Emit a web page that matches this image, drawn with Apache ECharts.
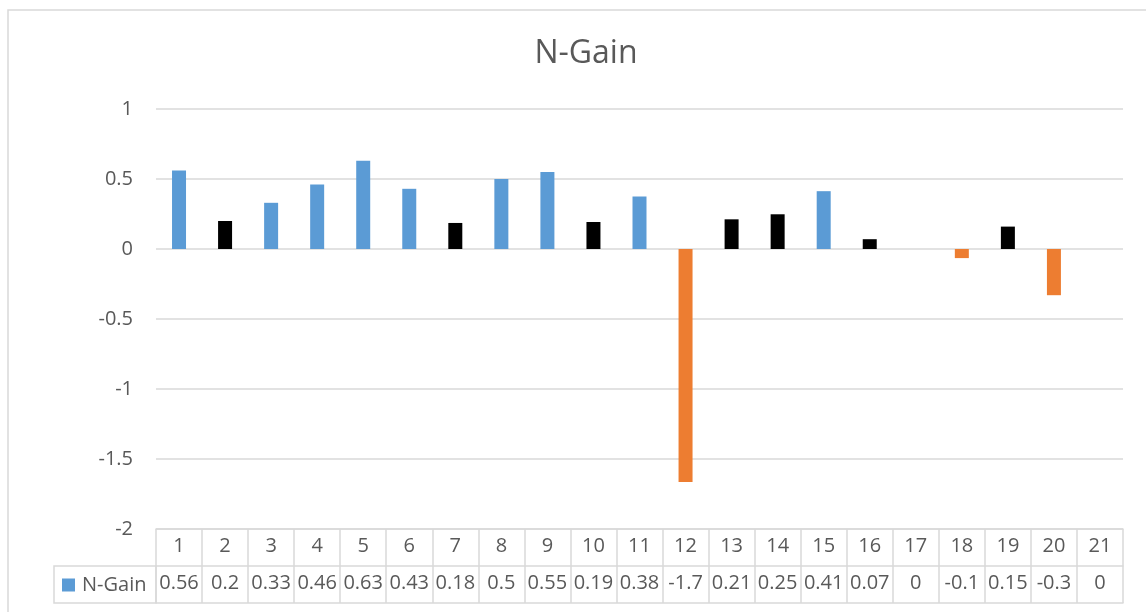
<!DOCTYPE html>
<html>
<head>
<meta charset="utf-8">
<script src="https://cdn.jsdelivr.net/npm/echarts@6/dist/echarts.min.js"></script>
<style>
html,body{margin:0;padding:0;background:#fff;}
#chart{width:1146px;height:612px;}
</style>
</head>
<body>
<div id="chart"></div>
<script>
var categories = ['1','2','3','4','5','6','7','8','9','10','11','12','13','14','15','16','17','18','19','20','21'];
var nGainValues = [0.56, 0.2, 0.33, 0.46, 0.63, 0.43, 0.186, 0.5, 0.55, 0.193, 0.375, -1.665, 0.212, 0.248, 0.413, 0.07, 0, -0.065, 0.16, -0.33, 0];
var tableLabels = ['0.56','0.2','0.33','0.46','0.63','0.43','0.18','0.5','0.55','0.19','0.38','-1.7','0.21','0.25','0.41','0.07','0','-0.1','0.15','-0.3','0'];
var barGroups = ['blue','black','blue','blue','blue','blue','black','blue','blue','black','blue','orange','black','black','blue','black','black','orange','black','orange','black'];
var yTicks = { min: -2, max: 1, interval: 0.5 };

var palette = { blue: '#5B9BD5', black: '#000000', orange: '#ED7D31' };
var gridC = '#D9D9D9';
var textC = '#595959';
var font = '"Open Sans", "Noto Sans", sans-serif';

var chart = echarts.init(document.getElementById('chart'), null, { renderer: 'canvas' });
chart.setOption({
  animation: false,
  backgroundColor: '#ffffff',
  title: {
    text: 'N-Gain',
    left: 581,
    top: 33,
    textAlign: 'center',
    textStyle: { color: textC, fontSize: 32, fontWeight: 'normal', fontFamily: font }
  },
  legend: {
    data: ['N-Gain'],
    left: 57,
    top: 570,
    itemWidth: 13,
    itemHeight: 13,
    icon: 'rect',
    textStyle: { color: textC, fontSize: 20, fontFamily: font, padding: [0, 0, 0, 2] }
  },
  grid: { left: 156, right: 23, top: 109, bottom: 83, outerBoundsMode: 'none' },
  xAxis: [
    {
      type: 'category',
      data: categories,
      position: 'bottom',
      axisLine: { show: true, onZero: false, lineStyle: { color: gridC, width: 1.5 } },
      axisTick: { show: true, length: 74, lineStyle: { color: gridC, width: 1.5 } },
      axisLabel: { color: textC, fontSize: 20, fontFamily: font, margin: 7, interval: 0 },
      splitLine: { show: false }
    },
    {
      type: 'category',
      data: categories,
      position: 'bottom',
      offset: 37,
      axisLine: { show: true, onZero: false, lineStyle: { color: gridC, width: 1.5 } },
      axisTick: { show: false },
      axisLabel: {
        color: textC, fontSize: 20, fontFamily: font, margin: 7, interval: 0,
        formatter: function (v, i) { return tableLabels[i]; }
      },
      splitLine: { show: false }
    },
    {
      type: 'category',
      data: categories,
      position: 'bottom',
      offset: 74,
      axisLine: { show: true, onZero: false, lineStyle: { color: gridC, width: 1.5 } },
      axisTick: { show: false },
      axisLabel: { show: false },
      splitLine: { show: false }
    }
  ],
  yAxis: {
    type: 'value',
    min: yTicks.min,
    max: yTicks.max,
    interval: yTicks.interval,
    axisLine: { show: false },
    axisTick: { show: false },
    axisLabel: { color: textC, fontSize: 20, fontFamily: font, margin: 23 },
    splitLine: { show: true, lineStyle: { color: gridC, width: 1.5 } }
  },
  graphic: [
    { type: 'rect', shape: { x: 8, y: 10, width: 1400, height: 800 }, style: { fill: 'none', stroke: gridC, lineWidth: 1.5 }, silent: true, z: -10 },
    { type: 'rect', shape: { x: 54, y: 566, width: 102, height: 37 }, style: { fill: 'none', stroke: gridC, lineWidth: 1.5 }, silent: true }
  ],
  series: [{
    name: 'N-Gain',
    type: 'bar',
    xAxisIndex: 0,
    barWidth: 14,
    itemStyle: { color: palette.blue },
    data: nGainValues.map(function (v, i) {
      return { value: v, itemStyle: { color: palette[barGroups[i]] } };
    })
  }]
});
</script>
</body>
</html>
